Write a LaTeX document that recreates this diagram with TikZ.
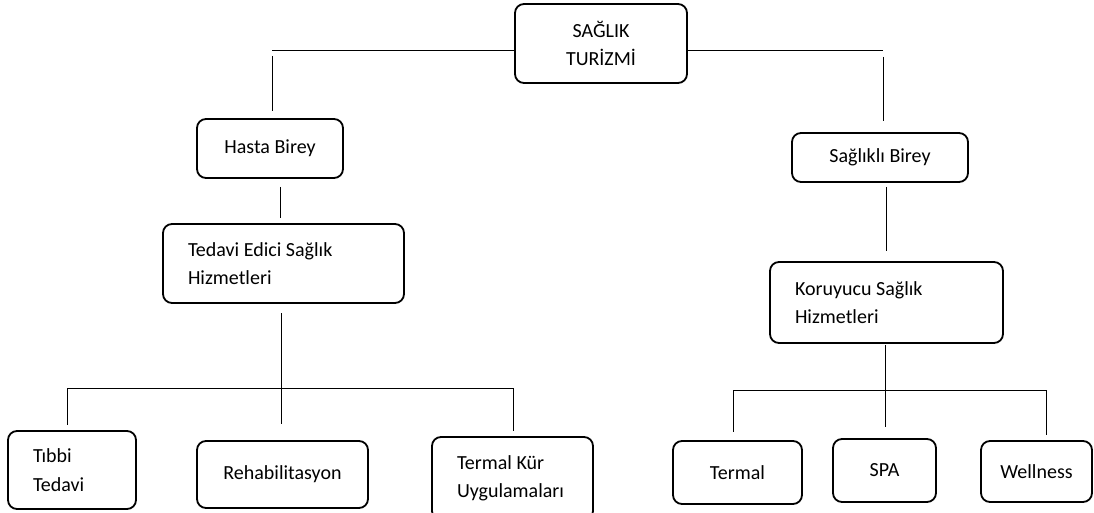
\documentclass[tikz,border=0pt]{standalone}
\usepackage{fontspec}
\setmainfont{Carlito}
\usetikzlibrary{positioning}
\tikzset{
  kutu/.style={draw, line width=1.8pt, rounded corners=9pt, inner sep=0pt, align=center,
    font=\fontsize{20}{28.5}\selectfont},
  solkutu/.style={kutu, align=flush left, inner xsep=25pt},
  hat/.style={line width=1pt}
}
\begin{document}
\begin{tikzpicture}[x=1pt, y=-1pt]
  \useasboundingbox (0,0) rectangle (1094,513);
  \node[kutu, minimum width=172pt, minimum height=79pt] (turizm) at (601,43.5) {SAĞLIK\\TURİZMİ};
  \node[kutu, minimum width=146pt, minimum height=59pt] (hasta) at (270,148.5) {Hasta Birey};
  \node[kutu, minimum width=176pt, minimum height=49pt] (saglikli) at (880,157.5) {Sağlıklı Birey};
  \node[solkutu, text width=191pt, minimum height=79pt] (tedavi) at (283.5,263.5) {Tedavi Edici Sağlık\\Hizmetleri};
  \node[solkutu, text width=183pt, minimum height=81pt] (koruyucu) at (886.5,302.5) {Koruyucu Sağlık\\Hizmetleri};
  \node[solkutu, text width=78pt, minimum height=78pt] (tibbi) at (72,470) {Tıbbi\\Tedavi};
  \node[kutu, minimum width=171pt, minimum height=67pt] (rehab) at (282.5,474.5) {Rehabilitasyon};
  \node[solkutu, text width=111pt, minimum height=83pt] (termalkur) at (512.5,478.5) {Termal Kür\\Uygulamaları};
  \node[kutu, minimum width=129pt, minimum height=63pt] (termal) at (737.5,472.5) {Termal};
  \node[kutu, minimum width=103pt, minimum height=63pt] (spa) at (884.5,470.5) {SPA};
  \node[kutu, minimum width=111pt, minimum height=61pt] (wellness) at (1036.5,471.5) {Wellness};

  \coordinate (t1) at (272,51);
  \coordinate (t2) at (272,56);
  \coordinate (t3) at (272,111);
  \coordinate (t4) at (883,51);
  \coordinate (t5) at (883,57);
  \coordinate (t6) at (883,121);
  \draw[hat] (turizm.west |- t1) -- (t1);
  \draw[hat] (t2) -- (t3);
  \draw[hat] (turizm.east |- t4) -- (t4);
  \draw[hat] (t5) -- (t6);

  \coordinate (h1) at (280,187);
  \coordinate (h2) at (280,218);
  \coordinate (h3) at (281,313);
  \coordinate (h4) at (281,424);
  \coordinate (h5) at (67,388);
  \coordinate (h6) at (513,388);
  \coordinate (h7) at (67,425);
  \coordinate (h8) at (513,431);
  \draw[hat] (h1) -- (h2);
  \draw[hat] (h3) -- (h4);
  \draw[hat] (h5) -- (h6);
  \draw[hat] (h5) -- (h7);
  \draw[hat] (h6) -- (h8);

  \coordinate (s1) at (886,187);
  \coordinate (s2) at (886,251);
  \coordinate (s3) at (885,345);
  \coordinate (s4) at (885,427);
  \coordinate (s5) at (733,390);
  \coordinate (s6) at (1046,390);
  \coordinate (s7) at (733,432);
  \coordinate (s8) at (1046,435);
  \draw[hat] (s1) -- (s2);
  \draw[hat] (s3) -- (s4);
  \draw[hat] (s5) -- (s6);
  \draw[hat] (s5) -- (s7);
  \draw[hat] (s6) -- (s8);
\end{tikzpicture}
\end{document}
